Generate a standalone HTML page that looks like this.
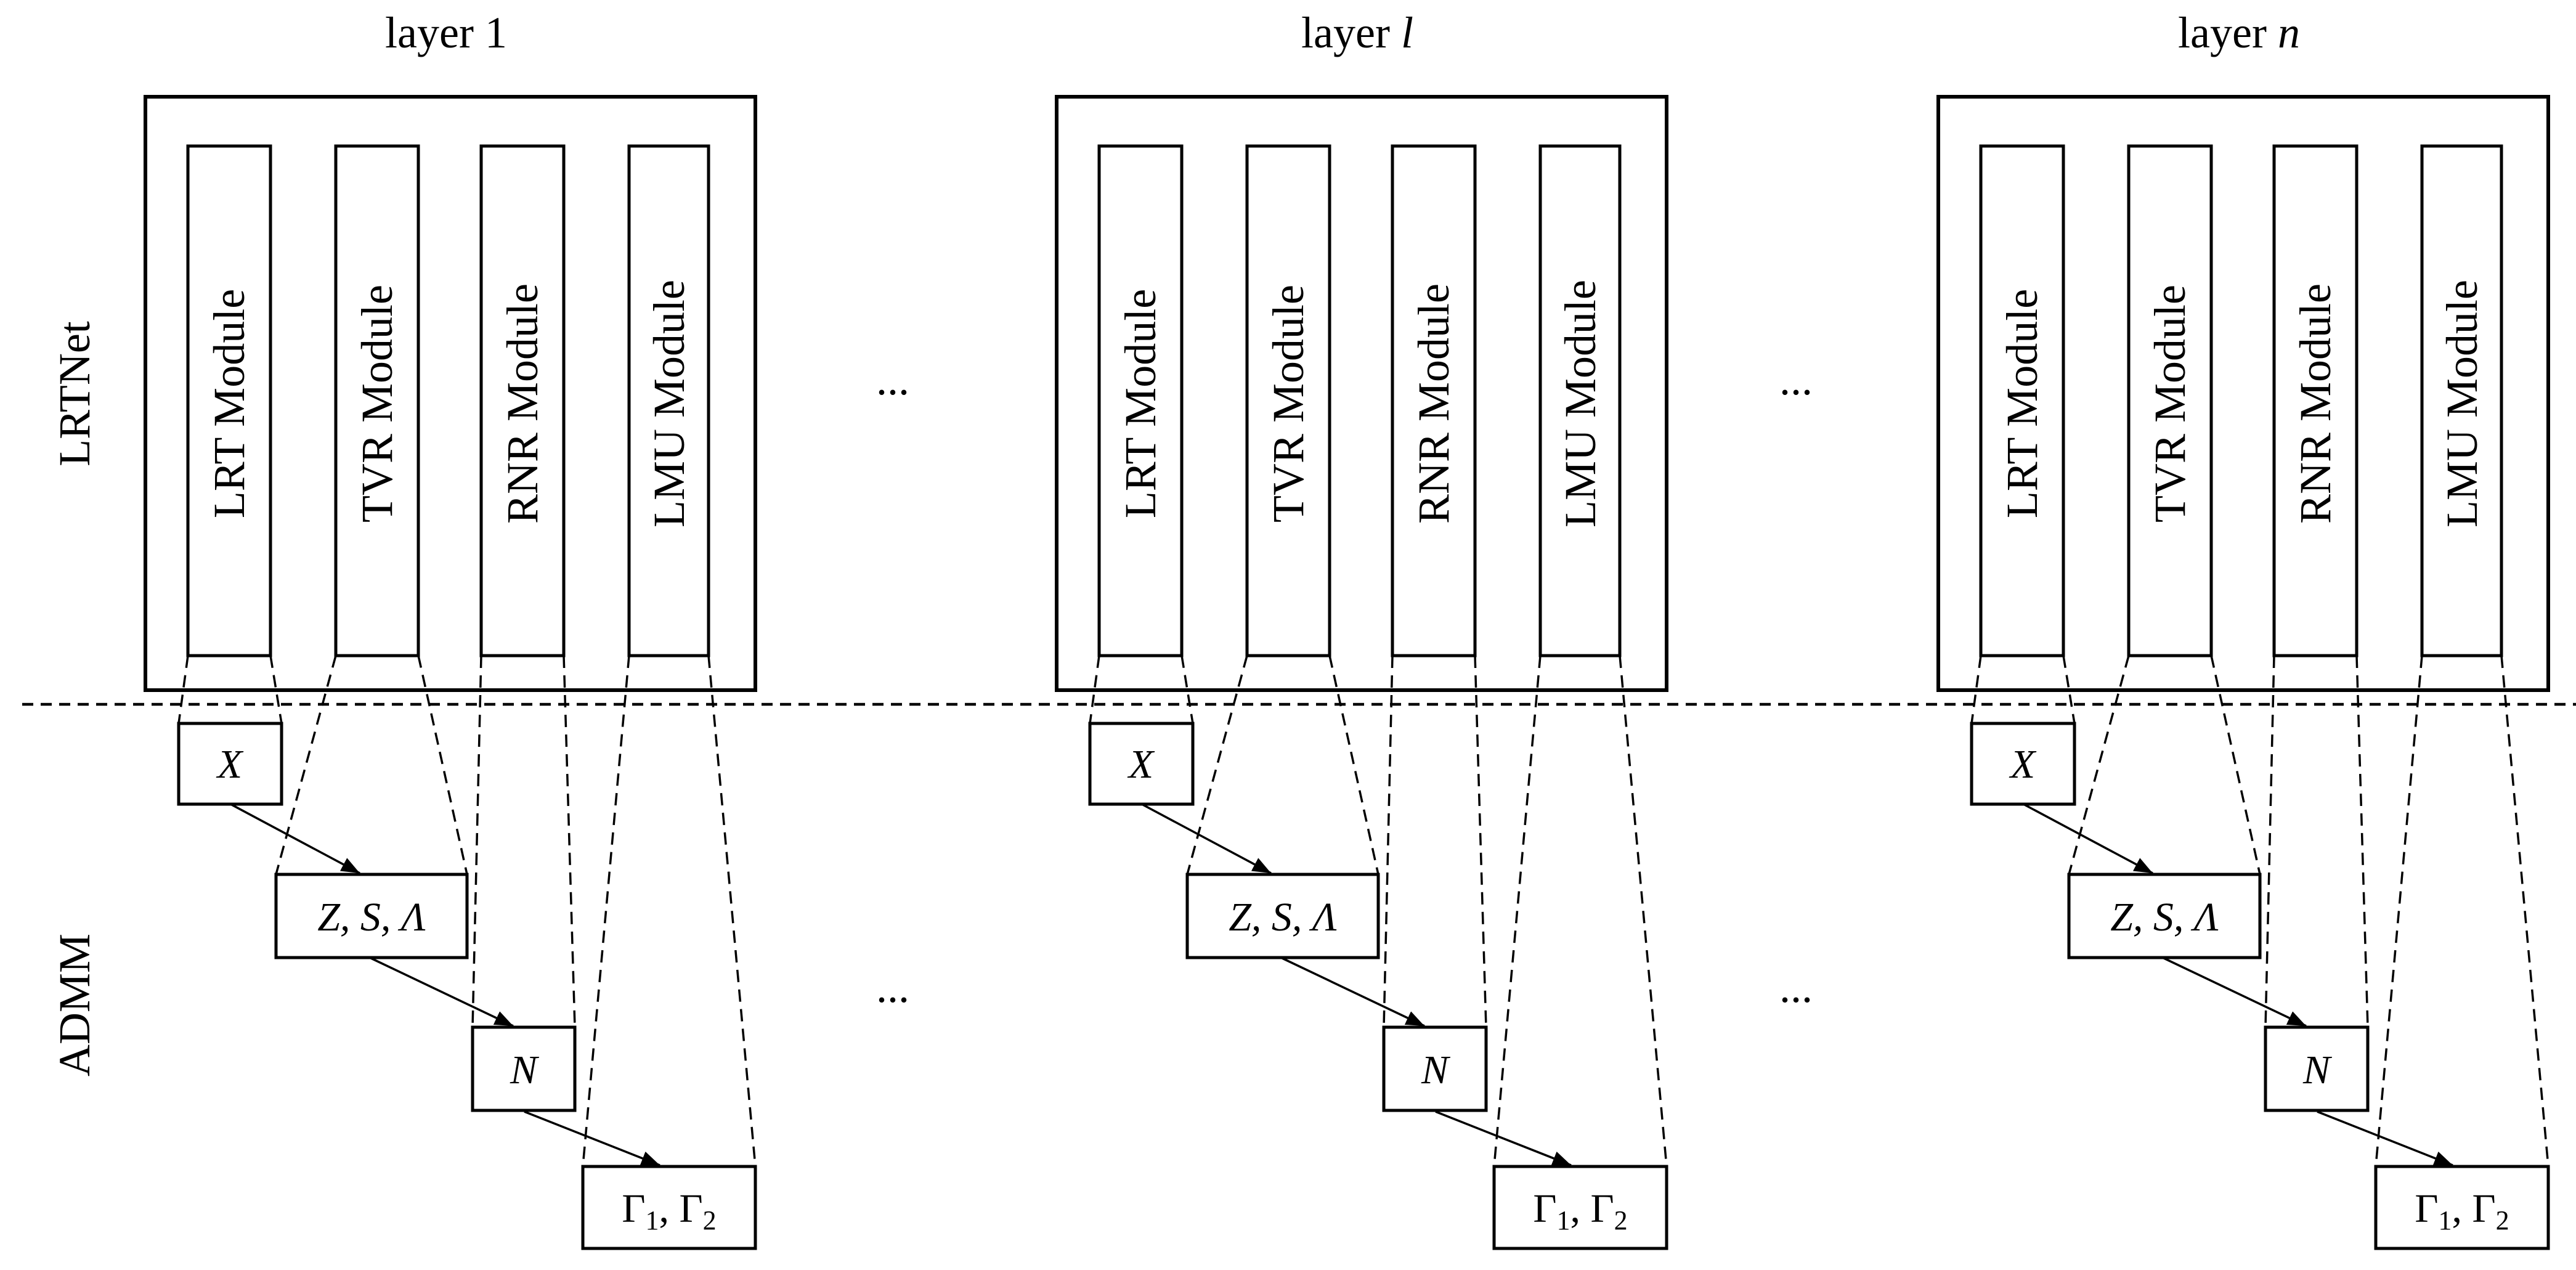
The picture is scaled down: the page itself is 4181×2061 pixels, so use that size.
<!DOCTYPE html>
<html><head><meta charset="utf-8"><style>
html,body{margin:0;padding:0;background:#fff;}
svg{display:block;}
text{font-family:"Liberation Serif","DejaVu Serif",serif;fill:#000;}
</style></head><body>
<svg width="4181" height="2061" viewBox="0 0 4181 2061" xmlns="http://www.w3.org/2000/svg">
<defs>
<marker id="ah" viewBox="0 0 30 24" refX="30" refY="12" markerWidth="30" markerHeight="24" markerUnits="userSpaceOnUse" orient="auto">
<path d="M0,0 L30,12 L0,24 Z" fill="#000"/>
</marker>
<g id="layer">
 <rect x="236" y="157" width="990" height="963" fill="none" stroke="#000" stroke-width="6"/>
 <rect x="305" y="237" width="134" height="827" fill="#fff" stroke="#000" stroke-width="5"/>
 <rect x="545" y="237" width="134" height="827" fill="#fff" stroke="#000" stroke-width="5"/>
 <rect x="781" y="237" width="134" height="827" fill="#fff" stroke="#000" stroke-width="5"/>
 <rect x="1021" y="237" width="129" height="827" fill="#fff" stroke="#000" stroke-width="5"/>
 <text transform="translate(372,655) rotate(-90)" font-size="72" text-anchor="middle" dominant-baseline="central">LRT Module</text>
 <text transform="translate(612,655) rotate(-90)" font-size="72" text-anchor="middle" dominant-baseline="central">TVR  Module</text>
 <text transform="translate(848,655) rotate(-90)" font-size="72" text-anchor="middle" dominant-baseline="central">RNR Module</text>
 <text transform="translate(1086,655) rotate(-90)" font-size="72" text-anchor="middle" dominant-baseline="central">LMU Module</text>
 <g stroke="#000" stroke-width="3.5" stroke-dasharray="20 12" fill="none">
  <line x1="305" y1="1064" x2="290" y2="1174"/>
  <line x1="439" y1="1064" x2="457" y2="1174"/>
  <line x1="545" y1="1064" x2="448" y2="1419"/>
  <line x1="679" y1="1064" x2="758" y2="1419"/>
  <line x1="781" y1="1064" x2="767" y2="1667"/>
  <line x1="915" y1="1064" x2="933" y2="1667"/>
  <line x1="1021" y1="1064" x2="946" y2="1893"/>
  <line x1="1150" y1="1064" x2="1226" y2="1893"/>
 </g>
 <rect x="290" y="1174" width="167" height="131" fill="#fff" stroke="#000" stroke-width="5"/>
 <rect x="448" y="1419" width="310" height="135" fill="#fff" stroke="#000" stroke-width="5"/>
 <rect x="767" y="1667" width="166" height="135" fill="#fff" stroke="#000" stroke-width="5"/>
 <rect x="946" y="1893" width="280" height="133" fill="#fff" stroke="#000" stroke-width="5"/>
 <g stroke="#000" stroke-width="3.5" marker-end="url(#ah)">
  <line x1="376" y1="1306" x2="584" y2="1417"/>
  <line x1="602" y1="1555" x2="833" y2="1665"/>
  <line x1="851" y1="1804" x2="1071" y2="1891"/>
 </g>
 <text x="373" y="1262" font-size="66" font-style="italic" text-anchor="middle">X</text>
 <text x="603" y="1510" font-size="66" font-style="italic" text-anchor="middle">Z, S, Λ</text>
 <text x="850" y="1758" font-size="66" font-style="italic" text-anchor="middle">N</text>
 <text x="1086" y="1983" font-size="66" text-anchor="middle">Γ<tspan font-size="44" dy="12">1</tspan><tspan dy="-12">, Γ</tspan><tspan font-size="44" dy="12">2</tspan></text>
</g>
</defs>
<use href="#layer"/>
<use href="#layer" transform="translate(1479,0)"/>
<use href="#layer" transform="translate(2910,0)"/>
<line x1="36" y1="1143" x2="4181" y2="1143" stroke="#000" stroke-width="4.5" stroke-dasharray="18 12"/>
<text x="724" y="77" font-size="72" text-anchor="middle">layer 1</text>
<text x="2203" y="77" font-size="72" text-anchor="middle">layer <tspan font-style="italic">l</tspan></text>
<text x="3634" y="77" font-size="72" text-anchor="middle">layer <tspan font-style="italic">n</tspan></text>
<text transform="translate(121,639) rotate(-90)" font-size="72" text-anchor="middle" dominant-baseline="central">LRTNet</text>
<text transform="translate(121,1631) rotate(-90)" font-size="72" text-anchor="middle" dominant-baseline="central">ADMM</text>
<text x="1449" y="640" font-size="72" text-anchor="middle">...</text>
<text x="2915" y="640" font-size="72" text-anchor="middle">...</text>
<text x="1449" y="1626" font-size="72" text-anchor="middle">...</text>
<text x="2915" y="1626" font-size="72" text-anchor="middle">...</text>
</svg>
</body></html>
